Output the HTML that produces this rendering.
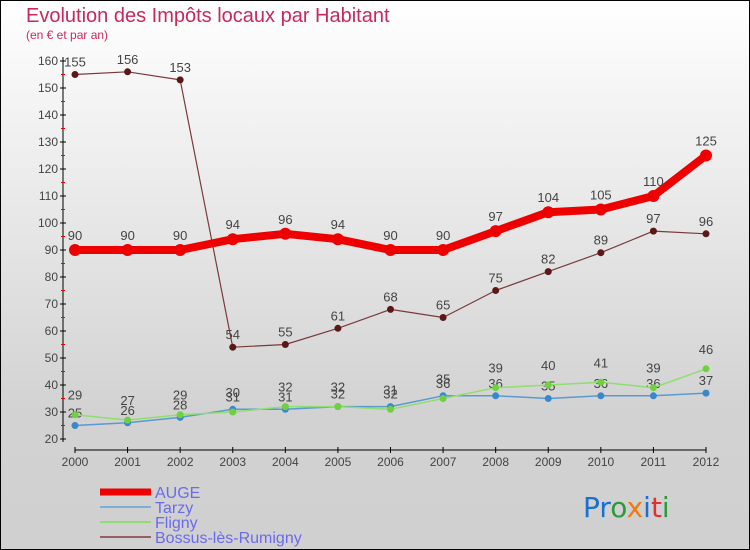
<!DOCTYPE html>
<html><head><meta charset="utf-8"><style>
body{margin:0}
#wrap{width:750px;height:550px;position:relative;overflow:hidden;font-family:"Liberation Sans",sans-serif;background:linear-gradient(#ffffff,#d2d2d2 75%,#d0d0d0)}
#wrap:after{content:"";position:absolute;inset:0;border:1px solid #000;pointer-events:none}
</style></head><body>
<div id="wrap">
<svg id="svg" width="750" height="550">
<text x="26" y="22" font-size="20" fill="#c8285a">Evolution des Impôts locaux par Habitant</text>
<text x="26" y="39" font-size="12" fill="#c8285a">(en € et par an)</text>
<g id="axes"></g><g id="series"></g><g id="legend"></g>
<text x="583" y="517" font-size="28" font-family="DejaVu Sans"><tspan fill="#1a6fd0">Pr</tspan><tspan fill="#2a9a3a">o</tspan><tspan fill="#f07b10">x</tspan><tspan fill="#1a6fd0">i</tspan><tspan fill="#e03030">t</tspan><tspan fill="#2a9a3a">i</tspan></text>
</svg></div>
<script>
const years=[2000,2001,2002,2003,2004,2005,2006,2007,2008,2009,2010,2011,2012];
const auge=[90,90,90,94,96,94,90,90,97,104,105,110,125];
const tarzy=[25,26,28,31,31,32,32,36,36,35,36,36,37];
const fligny=[29,27,29,30,32,32,31,35,39,40,41,39,46];
const bossus=[155,156,153,54,55,61,68,65,75,82,89,97,96];
const yTicks=[20,30,40,50,60,70,80,90,100,110,120,130,140,150,160];
const NS="http://www.w3.org/2000/svg";
const X=i=>75+i*(706-75)/12;
const Y=v=>439-(v-20)*(439-61)/140;
function mk(tag,attrs,parent,txt){const e=document.createElementNS(NS,tag);for(const k in attrs)e.setAttribute(k,attrs[k]);if(txt!==undefined)e.textContent=txt;parent.appendChild(e);return e;}
const ax=document.getElementById('axes');
let l=mk('line',{x1:63,y1:57,x2:63,y2:442,stroke:'#000'},ax);


yTicks.forEach(v=>{
 mk('line',{x1:60,y1:Y(v),x2:66,y2:Y(v),stroke:'#000'},ax);
 if(v<160)mk('line',{x1:61,y1:Y(v+5),x2:65,y2:Y(v+5),stroke:'#e00'},ax);
 const t=mk('text',{x:58,y:Y(v)+4,'font-size':12,fill:'#444','text-anchor':'end'},ax,v);
 
 
});
l=mk('line',{x1:75,y1:450,x2:706,y2:450,stroke:'#000'},ax);


years.forEach((y,i)=>{
 mk('line',{x1:X(i),y1:447,x2:X(i),y2:453,stroke:'#000'},ax);
 const t=mk('text',{x:X(i),y:466,'font-size':12,fill:'#444','text-anchor':'middle'},ax,y);
 
 
});
const sg=document.getElementById('series');
function draw(data,color,w,r,dot,name,lblOff){
 const g=mk('g',{},sg);
 
 
 mk('polyline',{points:data.map((v,i)=>X(i)+','+Y(v)).join(' '),fill:'none',stroke:color,'stroke-width':w,'stroke-linejoin':'round'},g);
 data.forEach((v,i)=>{
  const c=mk('circle',{cx:X(i),cy:Y(v),r:r,fill:dot},g);
  
  
  mk('text',{x:X(i),y:Y(v)+lblOff,'font-size':13,fill:'#444','text-anchor':'middle'},g,v);
 });
}
draw(bossus,'#7a3a3a',1.2,3.5,'#5a1818','bossus',-8);
draw(tarzy,'#5a9ad0',1.5,3.5,'#3a88cc','tarzy',-8);
draw(fligny,'#90dd70',1.5,3.5,'#70d040','fligny',-15);
draw(auge,'#ee0000',8,6,'#ee0000','auge',-10);
const lg=document.getElementById('legend');
[['AUGE','#ee0000',7],['Tarzy','#7ab0d8',2],['Fligny','#90dd70',2],['Bossus-lès-Rumigny','#946060',2]].forEach((e,i)=>{
 const y=492+i*15;
 const r=mk('line',{x1:100,y1:y,x2:151,y2:y,stroke:e[1],'stroke-width':e[2]},lg);
 
 
 const t=mk('text',{x:155,y:y+6,'font-size':16,fill:'#6a6aee'},lg,e[0]);
 
 
});
</script>
</body></html>
